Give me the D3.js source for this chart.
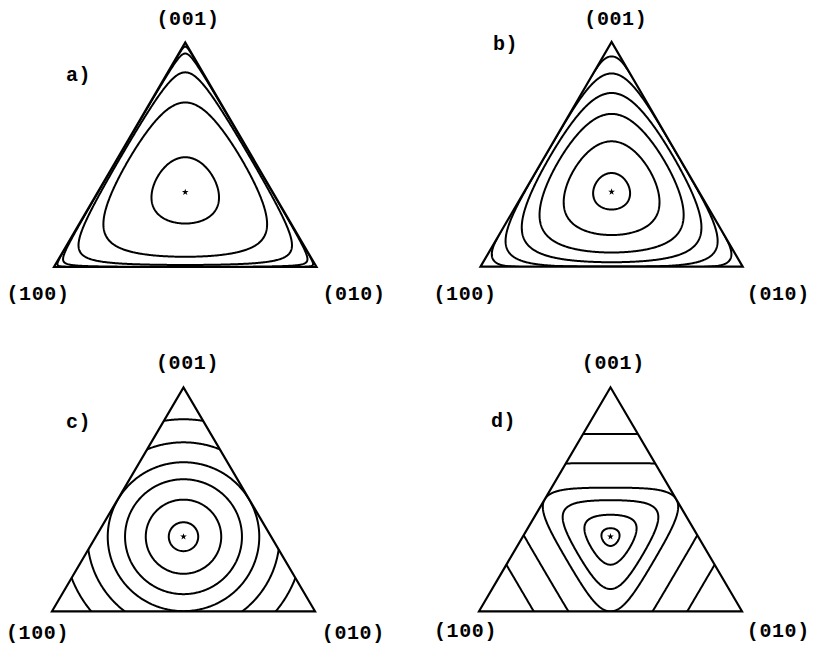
<!DOCTYPE html>
<html>
<head>
<meta charset="utf-8">
<script src="https://cdn.jsdelivr.net/npm/d3@7"></script>
<style>
  body { margin: 0; background: #fff; }
  svg { display: block; }
  text { font-family: "Liberation Mono", "DejaVu Sans Mono", monospace; font-weight: bold; fill: #000; }
</style>
</head>
<body>
<svg id="chart" width="815" height="654"></svg>
<script>
// Vertex labels of the composition simplex and the panel letters
const vertexLabels = ["(100)", "(010)", "(001)"];
const panelLetters = ["a)", "b)", "c)", "d)"];

// Each contour is given by the (001) share at which it crosses the
// vertical median above the interior fixed point.
const levelsA = [0.489, 0.733, 0.867, 0.951, 0.982];
const levelsB = [0.417, 0.558, 0.680, 0.773, 0.860, 0.936];
const levelsC = [0.398, 0.499, 0.590, 0.666, 0.755, 0.858];
const levelsD = [0.371, 0.431, 0.496, 0.552, 0.661, 0.792];

// Exponents of the power-sum invariants used in panels b, c, d
const exponents = [null, 0.6, 2, 7];

// Interior fixed point (barycentric)
const fixedPoint = [1 / 3, 1 / 3, 1 / 3];

// Invariants as functions of barycentric coordinates (x, y, z)
const spow = (t, q) => Math.sign(t) * Math.pow(Math.abs(t), q);
const invariants = [
  (x, y, z) => (x <= 0 || y <= 0 || z <= 0) ? 0 : x * y * z * Math.exp(-2 * (x * x + y * y + z * z)),
  (x, y, z) => spow(x, exponents[1]) + spow(y, exponents[1]) + spow(z, exponents[1]),
  (x, y, z) => spow(x, exponents[2]) + spow(y, exponents[2]) + spow(z, exponents[2]),
  (x, y, z) => spow(x, exponents[3]) + spow(y, exponents[3]) + spow(z, exponents[3])
];
const allLevels = [levelsA, levelsB, levelsC, levelsD];

// Panel frames: triangle corners and label anchors (pixels)
const frames = [
  { left: 54, right: 316.5, base: 267, apex: 42.5,
    top: [188, 25], l: [38, 300], r: [354, 300], letter: [66, 81] },
  { left: 480.5, right: 742.7, base: 266.7, apex: 42,
    top: [615.8, 25], l: [465, 300], r: [778.3, 300], letter: [493, 50] },
  { left: 52, right: 315, base: 611.3, apex: 387.5,
    top: [187.5, 369], l: [37.5, 639], r: [353.3, 639], letter: [66, 428] },
  { left: 479, right: 742, base: 611.3, apex: 387.3,
    top: [613.3, 369], l: [465.5, 637], r: [778.3, 637], letter: [491, 427] }
];

const svg = d3.select("#chart");
const NX = 340, NY = 320, PAD = 0.06;

frames.forEach((fr, p) => {
  // u runs from (100) to (010) along the base, v is the (001) share
  const xs = d3.scaleLinear().domain([0, 1]).range([fr.left, fr.right]);
  const ys = d3.scaleLinear().domain([0, 1]).range([fr.base, fr.apex]);
  const toXY = (b) => [xs(b[1] + b[2] / 2), ys(b[2])];

  const f = invariants[p];
  const du = (1 + 2 * PAD) / (NX - 1), dv = (1 + 2 * PAD) / (NY - 1);
  const values = new Float64Array(NX * NY);
  for (let j = 0; j < NY; j++) {
    const v = -PAD + j * dv;
    for (let i = 0; i < NX; i++) {
      const u = -PAD + i * du;
      const z = v, y = u - v / 2, x = 1 - y - z;
      values[j * NX + i] = f(x, y, z);
    }
  }
  const thresholds = allLevels[p].map(z => f((1 - z) / 2, (1 - z) / 2, z));
  const contours = d3.contours().size([NX, NY]).thresholds(thresholds)(values);

  const proj = d3.geoTransform({
    point(gx, gy) {
      this.stream.point(xs(-PAD + (gx - 0.5) * du), ys(-PAD + (gy - 0.5) * dv));
    }
  });
  const path = d3.geoPath(proj);

  const corners = [[1, 0, 0], [0, 1, 0], [0, 0, 1]].map(toXY);
  const g = svg.append("g");
  const clipId = "clip" + p;
  g.append("clipPath").attr("id", clipId)
    .append("polygon").attr("points", corners.map(c => c.join(",")).join(" "));

  g.append("g").attr("clip-path", `url(#${clipId})`)
    .selectAll("path").data(contours).join("path")
    .attr("d", path)
    .attr("fill", "none")
    .attr("stroke", "#000")
    .attr("stroke-width", 2)
    .attr("stroke-linejoin", "round");

  g.append("polygon")
    .attr("points", corners.map(c => c.join(",")).join(" "))
    .attr("fill", "none")
    .attr("stroke", "#000")
    .attr("stroke-width", 2.2)
    .attr("stroke-linejoin", "miter");

  const c0 = toXY(fixedPoint);
  g.append("path")
    .attr("transform", `translate(${c0[0]},${c0[1]})`)
    .attr("d", d3.symbol(d3.symbolStar, 14)())
    .attr("fill", "#000");

  const label = (pos, txt, anchor) => g.append("text")
    .attr("x", pos[0]).attr("y", pos[1])
    .attr("text-anchor", anchor)
    .attr("font-size", 20)
    .attr("letter-spacing", 0.6)
    .text(txt);
  label(fr.top, vertexLabels[2], "middle");
  label(fr.l, vertexLabels[0], "middle");
  label(fr.r, vertexLabels[1], "middle");
  label(fr.letter, panelLetters[p], "start");
});
</script>
</body>
</html>
